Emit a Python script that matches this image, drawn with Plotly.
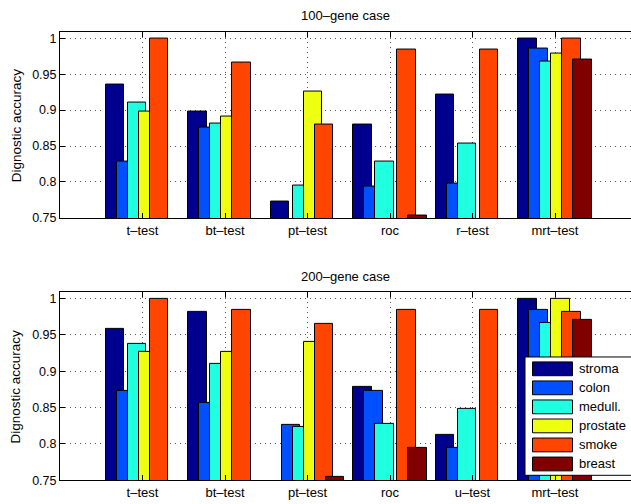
import plotly.graph_objects as go

# ---------------- data ----------------
series = ["stroma", "colon", "medull.", "prostate", "smoke", "breast"]
colors = ["#00008F", "#0050FF", "#20FFDF", "#EFFF10", "#FF4500", "#800000"]

cats_100 = ["t–test", "bt–test", "pt–test", "roc", "r–test", "mrt–test"]
cats_200 = ["t–test", "bt–test", "pt–test", "roc", "u–test", "mrt–test"]

# values per series (None = below axis floor, not visible)
stroma_100   = [0.935, 0.898, 0.773, 0.880, 0.921, 1.000]
colon_100    = [0.828, 0.876, None,  0.793, 0.798, 0.985]
medull_100   = [0.910, 0.881, 0.795, 0.829, 0.853, 0.967]
prostate_100 = [0.898, 0.891, 0.926, None,  None,  0.978]
smoke_100    = [1.000, 0.966, 0.880, 0.984, 0.984, 1.000]
breast_100   = [None,  None,  None,  0.754, None,  0.970]

stroma_200   = [0.958, 0.981, None,  0.879, 0.813, 1.000]
colon_200    = [0.873, 0.856, 0.826, 0.873, 0.794, 0.985]
medull_200   = [0.938, 0.910, 0.824, 0.828, 0.848, 0.967]
prostate_200 = [0.927, 0.927, 0.941, None,  None,  1.000]
smoke_200    = [1.000, 0.984, 0.965, 0.984, 0.984, 0.982]
breast_200   = [None,  None,  0.7545, 0.795, None, 0.970]

yticks = [0.75, 0.8, 0.85, 0.9, 0.95, 1.0]
yticklabels = ["0.75", "0.8", "0.85", "0.9", "0.95", "1"]

data_100 = [stroma_100, colon_100, medull_100, prostate_100, smoke_100, breast_100]
data_200 = [stroma_200, colon_200, medull_200, prostate_200, smoke_200, breast_200]

# ---------------- layout helpers ----------------
W, H = 631, 504
ML = 60
PW = W - ML
FONT = "Liberation Sans, Arial, Helvetica, sans-serif"

def px_x(px):
    return (px - ML) / PW

def px_y(py):
    return 1 - py / H

step = 0.1333
bw = 0.225
xpos = list(range(1, 7))

fig = go.Figure()
for panel, (data, xa, ya) in enumerate([(data_100, "x", "y"), (data_200, "x2", "y2")]):
    for k, (name, col, vals) in enumerate(zip(series, colors, data)):
        fig.add_trace(go.Bar(
            x=xpos, y=vals, name=name, xaxis=xa, yaxis=ya,
            width=bw, offset=(k - 2.5) * step - bw / 2,
            marker=dict(color=col, line=dict(color="black", width=1)),
            showlegend=False,
        ))

axis_common_x = dict(
    range=[0, PW / 82.5], tickvals=xpos, showline=True, linecolor="black",
    linewidth=1, mirror="ticks", ticks="inside", ticklen=5, tickcolor="black",
    showgrid=True, gridcolor="#555555", griddash="1px,4px", gridwidth=1,
    zeroline=False, tickfont=dict(family=FONT, size=13, color="black"),
)
axis_common_y = dict(
    range=[0.75, 1.0092], tickvals=yticks, ticktext=yticklabels, showline=True,
    linecolor="black", linewidth=1, mirror=False, ticks="inside", ticklen=5,
    tickcolor="black", showgrid=True, gridcolor="#555555", griddash="1px,4px",
    gridwidth=1, zeroline=False, tickfont=dict(family=FONT, size=12.5, color="black"),
)

fig.update_layout(
    width=W, height=H, margin=dict(l=ML, r=0, t=0, b=0),
    paper_bgcolor="white", plot_bgcolor="white", barmode="overlay",
    bargap=0, showlegend=False,
    xaxis=dict(axis_common_x, ticktext=cats_100, domain=[0, 1], anchor="y"),
    yaxis=dict(axis_common_y, domain=[px_y(221), px_y(32)], anchor="x"),
    xaxis2=dict(axis_common_x, ticktext=cats_200, domain=[0, 1], anchor="y2"),
    yaxis2=dict(axis_common_y, domain=[px_y(487), px_y(296)], anchor="x2"),
)

ann = []
for txt, yc in (("100–gene case", 16), ("200–gene case", 280)):
    ann.append(dict(text=txt, x=px_x(345), y=px_y(yc), xref="paper", yref="paper",
                    xanchor="center", yanchor="middle", showarrow=False,
                    font=dict(family=FONT, size=13, color="black")))
for yc in (127, 392):
    ann.append(dict(text="Dignostic accuracy", x=px_x(16), y=px_y(yc), xref="paper", yref="paper",
                    xanchor="center", yanchor="middle",
                    textangle=-90, showarrow=False, font=dict(family=FONT, size=13.5, color="black")))

# legend drawn manually in the lower panel
shapes = [dict(type="rect", xref="paper", yref="paper", x0=px_x(525), x1=px_x(640),
               y0=px_y(482), y1=px_y(362), fillcolor="white",
               line=dict(color="black", width=1), layer="above")]
for i, (name, col) in enumerate(zip(series, colors)):
    top = 367 + i * 19.3
    shapes.append(dict(type="rect", xref="paper", yref="paper", x0=px_x(532.5), x1=px_x(572.5),
                       y0=px_y(top + 14), y1=px_y(top), fillcolor=col,
                       line=dict(color="black", width=1), layer="above"))
    ann.append(dict(text=name, x=px_x(577), y=px_y(top + 7), xref="paper", yref="paper",
                    xanchor="left", yanchor="middle", showarrow=False,
                    font=dict(family=FONT, size=13, color="black")))

fig.update_layout(annotations=ann, shapes=shapes)
fig.write_html(
    "out.html",
    config={"displayModeBar": False},
    post_script="document.body.style.margin='0';document.body.style.overflow='hidden';",
)
